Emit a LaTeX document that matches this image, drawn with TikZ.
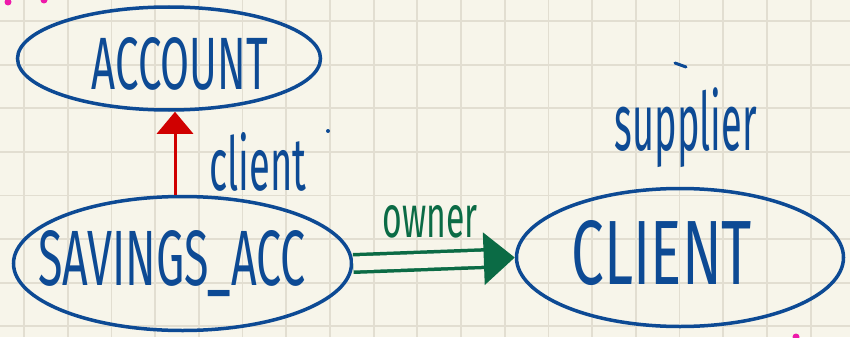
\documentclass[tikz,border=0pt]{standalone}
\usepackage{fontspec}
\setmainfont{Fira Sans}
\usetikzlibrary{shapes.geometric,arrows.meta}
\definecolor{paper}{HTML}{F7F5EA}
\definecolor{gridc}{HTML}{E2DED1}
\definecolor{penblue}{HTML}{0D4A94}
\definecolor{penred}{HTML}{D00000}
\definecolor{pengreen}{HTML}{0B6B45}
\definecolor{penpink}{HTML}{EE1AAA}
\begin{document}
\begin{tikzpicture}[x=1pt,y=-1pt,
  bubble/.style={ellipse,draw=penblue,line width=3.5pt,inner sep=0pt},
  hand/.style={inner sep=0pt,text=penblue},
  gridline/.style={gridc,line width=1.8pt},
  inharrow/.style={penred,line width=3pt,-{Triangle[width=36pt,length=22pt]}},
  relarrow/.style={pengreen,line width=3.5pt,double=paper,double distance=14pt,-{Triangle[width=52pt,length=31pt]}},
  penmark/.style={penblue,line width=3pt,line cap=round}]
\useasboundingbox (0,0) rectangle (850,337);
\fill[paper] (0,0) rectangle (850,337);
\foreach \i in {0,...,18} \draw[gridline] (24+43.7*\i,0) -- (24+43.7*\i,337);
\foreach \j in {0,...,7} \draw[gridline] (0,21+43.6*\j) -- (850,21+43.6*\j);
% pink marks
\fill[penpink] (8,2) circle (3.5pt);
\fill[penpink] (44,0) circle (3.5pt);
\fill[penpink] (796,337) circle (3.5pt);
% classes
\node[bubble,minimum width=303pt,minimum height=103pt] (acc) at (169,58.5) {};
\node[bubble,minimum width=338pt,minimum height=134pt] (sav) at (182.5,263.5) {};
\node[bubble,minimum width=327pt,minimum height=138pt] (cli) at (680,257.5) {};
\node[hand] (accl) at (180,64) {\resizebox{176pt}{52pt}{ACCOUNT}};
\node[hand] (savl) at (172,264) {\resizebox{267pt}{55pt}{SAVINGS\_ACC}};
\node[hand] (clil) at (662,253) {\resizebox{180pt}{64pt}{CLIENT}};
% connectors
\draw[inharrow] ([xshift=-7.5pt]sav.north) -- ([xshift=6pt]acc.south);
\draw[relarrow] (sav.east) -- (cli.west);
% labels
\node[hand] (clientl) at (258,162) {\resizebox{97pt}{58pt}{client}};
\fill[penblue] (328,131) circle (2pt);
\node[hand,pengreen] (ownerl) at (430,222) {\resizebox{95pt}{32pt}{owner}};
\node[hand] (supl) at (686,128) {\resizebox*{142pt}{80pt}{supplier}};
\draw[penmark] (675,63) -- (686,67);
\end{tikzpicture}
\end{document}
